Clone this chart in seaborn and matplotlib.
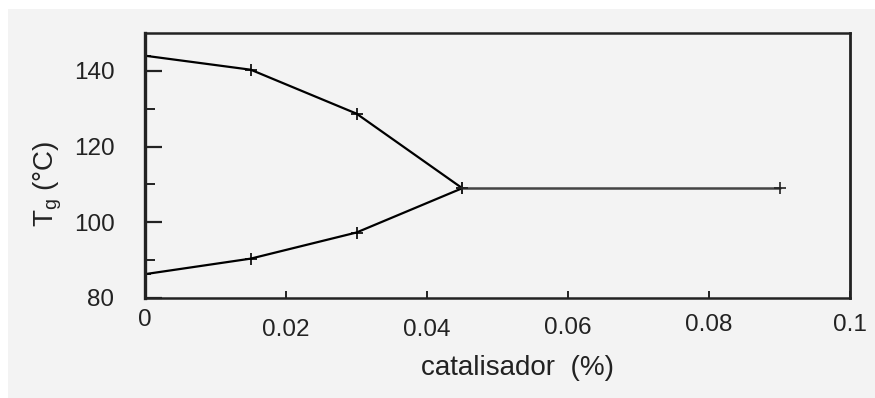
import matplotlib
matplotlib.use("Agg")
import matplotlib.pyplot as plt
import matplotlib.transforms as mtransforms
from matplotlib.patches import Rectangle
from matplotlib.ticker import FixedLocator
import seaborn as sns
import pandas as pd

# ---- data ----
upper_x = [0.0, 0.015, 0.03, 0.045]
upper_y = [144.0, 140.3, 128.7, 109.0]
lower_x = [0.0, 0.015, 0.03, 0.045]
lower_y = [86.3, 90.4, 97.3, 109.0]
flat_x = [0.045, 0.09]
flat_y = [109.0, 109.0]

xticks = [0, 0.02, 0.04, 0.06, 0.08, 0.1]
xticklabels = ["0", "0.02", "0.04", "0.06", "0.08", "0.1"]
yticks = [80, 100, 120, 140]
yticklabels = ["80", "100", "120", "140"]
xlabel = "catalisador  (%)"
ylabel = r"$\mathregular{T_g}$ (°C)"

sns.set_style("white")
plt.rcParams["font.family"] = ["Liberation Sans", "DejaVu Sans"]
plt.rcParams["mathtext.fontset"] = "custom"
plt.rcParams["mathtext.rm"] = "Liberation Sans"
plt.rcParams["mathtext.it"] = "Liberation Sans"

ink = "#222222"
bg = "#f3f3f3"
fig = plt.figure(figsize=(8.75, 3.98), dpi=100, facecolor="white")
fig.patches.append(Rectangle((8 / 875, 0), 1, 1 - 9 / 398, transform=fig.transFigure,
                             facecolor=bg, edgecolor="none", zorder=-10))
ax = fig.add_axes([145 / 875, 100 / 398, 705 / 875, 265 / 398])
ax.set_facecolor(bg)

df_u = pd.DataFrame({"x": upper_x, "y": upper_y})
df_l = pd.DataFrame({"x": lower_x, "y": lower_y})
df_f = pd.DataFrame({"x": flat_x, "y": flat_y})

kw = dict(marker="+", markersize=8, markeredgewidth=1.2, sort=False, legend=False)
sns.lineplot(data=df_u, x="x", y="y", ax=ax, color="black", linewidth=1.6,
             markeredgecolor="black", **kw)
sns.lineplot(data=df_l, x="x", y="y", ax=ax, color="black", linewidth=1.6,
             markeredgecolor="black", **kw)
sns.lineplot(data=df_f, x="x", y="y", ax=ax, color="#444444", linewidth=1.8,
             markeredgecolor="#222222", **kw)

ax.set_xlim(0, 0.1)
ax.set_ylim(80, 150)
ax.xaxis.set_major_locator(FixedLocator(xticks))
ax.set_xticklabels(xticklabels)
ax.yaxis.set_major_locator(FixedLocator(yticks))
ax.set_yticklabels(yticklabels)
ax.yaxis.set_minor_locator(FixedLocator([90, 110, 130]))

ax.tick_params(axis="y", which="major", direction="in", length=12, width=1.6,
               labelsize=17.5, pad=22, left=True, colors=ink)
ax.tick_params(axis="y", which="minor", direction="in", length=7, width=1.4, left=True,
               color=ink)
ax.tick_params(axis="x", which="major", direction="in", length=5, width=1.4,
               labelsize=17.5, pad=8, bottom=True, colors=ink)

for side, lw in [("left", 2.4), ("bottom", 1.8), ("top", 1.8), ("right", 2.0)]:
    ax.spines[side].set_visible(True)
    ax.spines[side].set_linewidth(lw)
    ax.spines[side].set_color(ink)

# slight vertical stagger of x tick labels, as in the scanned original
offsets = [0, -10, -10, -8, -5, -5]
for lab, dy in zip(ax.get_xticklabels(), offsets):
    lab.set_transform(lab.get_transform() +
                      mtransforms.ScaledTranslation(0, dy / 100, fig.dpi_scale_trans))

ax.set_xlabel(xlabel, fontsize=20, color=ink)
ax.set_ylabel(ylabel, fontsize=20, color=ink)
ax.xaxis.set_label_coords(0.528, -0.215)
ax.yaxis.set_label_coords(-0.115, 0.43)

fig.savefig("out.png", dpi=100, facecolor=fig.get_facecolor())
